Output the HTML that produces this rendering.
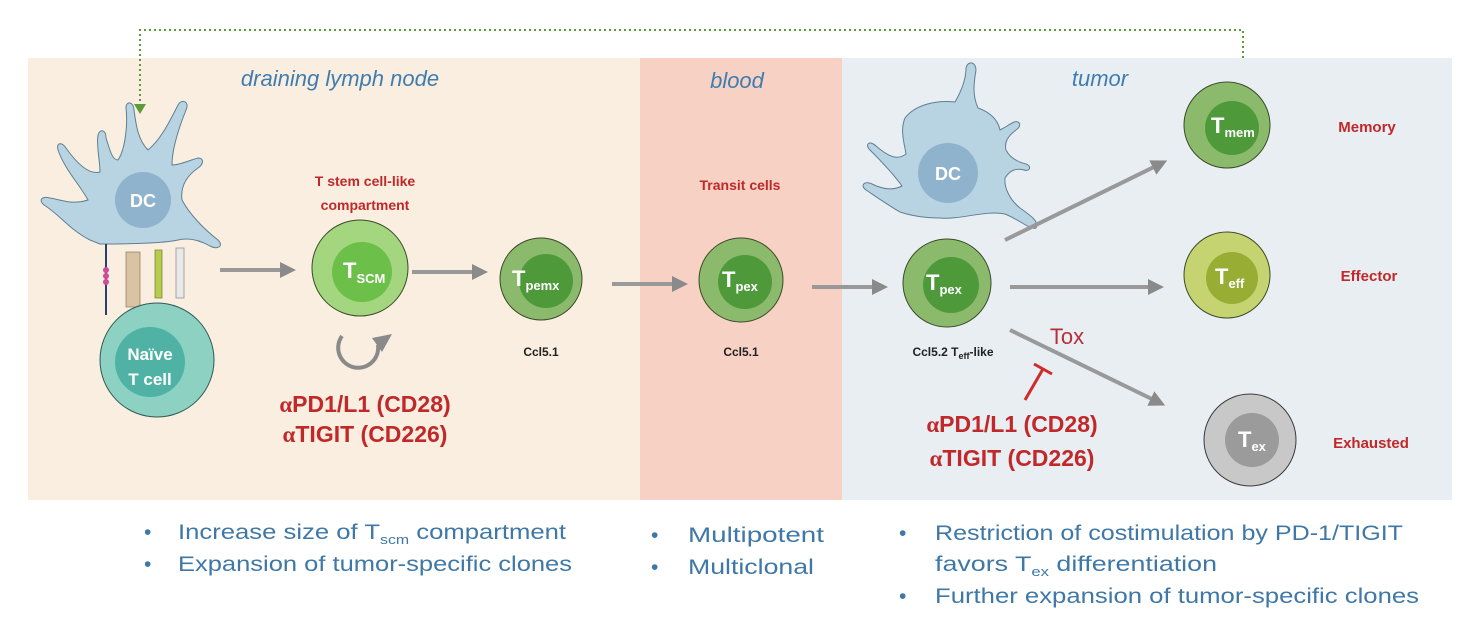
<!DOCTYPE html>
<html><head><meta charset="utf-8"><style>
html,body{margin:0;padding:0;background:#fff;width:1480px;height:636px;overflow:hidden}
svg{display:block;font-family:"Liberation Sans",sans-serif}
.red{fill:#c0282a;font-weight:bold}
.blue{fill:#3f7db1;font-style:italic;font-size:22px}
.bul{fill:#3f78a6;font-size:21px}
.cl{fill:#fff;font-weight:bold}
.ccl{fill:#222;font-weight:bold;font-size:12px}
.ab{fill:#c0282a;font-size:23px;font-weight:bold}
.arr{stroke:#999;stroke-width:4;fill:none}
</style></head><body>
<svg width="1480" height="636" viewBox="0 0 1480 636">
<defs>
<marker id="ah" markerWidth="4" markerHeight="4" refX="2" refY="2" orient="auto" markerUnits="strokeWidth"><path d="M0,0 L4,2 L0,4z" fill="#8a8a8a"/></marker>
</defs>
<rect x="28" y="58" width="612" height="442" fill="#f9eedf"/>
<rect x="640" y="58" width="202" height="442" fill="#f6d1c4"/>
<rect x="842" y="58" width="610" height="442" fill="#e9eef3"/>
<path d="M1243,58 V30 H140 V106" fill="none" stroke="#5d9a3a" stroke-width="2" stroke-dasharray="2,3"/>
<path d="M134,104 L146,104 L140,114z" fill="#5d9a3a"/>
<text x="340" y="86" text-anchor="middle" class="blue">draining lymph node</text>
<text x="737" y="88" text-anchor="middle" class="blue">blood</text>
<text x="1100" y="86" text-anchor="middle" class="blue">tumor</text>

<g>
<path d="M90,240 C70,230 60,215 44,205 C38,200 42,196 50,198 C62,200 72,205 88,200 C80,185 65,170 58,150 C56,142 62,142 66,148 C78,165 90,175 100,172 C100,160 96,145 98,135 C100,128 106,130 106,138 C110,150 112,160 118,160 C125,150 128,125 126,108 C126,100 134,102 134,110 C136,125 138,140 148,150 C160,140 168,125 178,105 C182,98 190,102 186,110 C178,130 172,150 172,165 C180,165 190,160 198,158 C204,158 204,164 198,168 C188,175 180,185 182,200 C190,215 205,230 218,240 C224,246 218,250 210,246 C196,238 186,238 178,240 C160,244 120,244 100,244z" fill="#b8d4e3" stroke="#5f7f92" stroke-width="1"/>
<circle cx="143" cy="200" r="28" fill="#8fb3cc"/>
<text x="143" y="207" text-anchor="middle" class="cl" font-size="18">DC</text>
</g>
<g>
<line x1="106" y1="244" x2="106" y2="315" stroke="#2a3f6a" stroke-width="2"/>
<circle cx="106" cy="270" r="3" fill="#d04a9a"/><circle cx="106" cy="276" r="3" fill="#d04a9a"/><circle cx="106" cy="282" r="3" fill="#d04a9a"/>
<rect x="126" y="252" width="14" height="55" fill="#d9c3a2" stroke="#8a7a60" stroke-width="0.7"/>
<rect x="155" y="250" width="7" height="48" fill="#b6cc4e" stroke="#6f7f30" stroke-width="0.7"/>
<rect x="176" y="248" width="8" height="50" fill="#e8e8e8" stroke="#888" stroke-width="0.7"/>
</g>
<g>
<circle cx="157" cy="360" r="57" fill="#8dd1c3" stroke="#2f5a52" stroke-width="1"/>
<circle cx="150" cy="362" r="35" fill="#4fb2a5"/>
<text x="150" y="360" text-anchor="middle" class="cl" font-size="17">Naïve</text>
<text x="150" y="385" text-anchor="middle" class="cl" font-size="17">T cell</text>
</g>
<line x1="220" y1="270" x2="288" y2="270" class="arr" marker-end="url(#ah)"/>

<text x="365" y="186" text-anchor="middle" class="red" font-size="14">T stem cell-like</text>
<text x="365" y="210" text-anchor="middle" class="red" font-size="14">compartment</text>
<g>
<circle cx="360" cy="268" r="48" fill="#a4d57f" stroke="#3a4a2a" stroke-width="1"/>
<circle cx="362" cy="272" r="30" fill="#6cbf48"/>
<text x="343" y="278" class="cl" font-size="22">T<tspan font-size="13" dy="5">SCM</tspan></text>
</g>
<path d="M342,336 A20,20 0 1 0 378,345" fill="none" stroke="#8a8a8a" stroke-width="4"/>
<path d="M372,338 L392,334 L382,352z" fill="#8a8a8a"/>
<text x="365" y="412" text-anchor="middle" class="ab"><tspan font-family="Liberation Serif">α</tspan>PD1/L1 (CD28)</text>
<text x="365" y="442" text-anchor="middle" class="ab"><tspan font-family="Liberation Serif">α</tspan>TIGIT (CD226)</text>
<line x1="412" y1="272" x2="480" y2="272" class="arr" marker-end="url(#ah)"/>

<g>
<circle cx="541" cy="279" r="41" fill="#8cba6c" stroke="#3a4a2a" stroke-width="1"/>
<circle cx="546" cy="281" r="27" fill="#4e9a3a"/>
<text x="512" y="286" class="cl" font-size="22">T<tspan font-size="13" dy="4">pemx</tspan></text>
<text x="541" y="356" text-anchor="middle" class="ccl">Ccl5.1</text>
</g>
<line x1="612" y1="284" x2="680" y2="284" class="arr" marker-end="url(#ah)"/>

<text x="740" y="190" text-anchor="middle" class="red" font-size="14">Transit cells</text>
<g>
<circle cx="741" cy="280" r="42" fill="#8cba6c" stroke="#3a4a2a" stroke-width="1"/>
<circle cx="745" cy="282" r="27" fill="#4e9a3a"/>
<text x="722" y="287" class="cl" font-size="22">T<tspan font-size="13" dy="4">pex</tspan></text>
<text x="741" y="356" text-anchor="middle" class="ccl">Ccl5.1</text>
</g>
<line x1="812" y1="287" x2="880" y2="287" class="arr" marker-end="url(#ah)"/>

<g>
<path d="M900,212 C888,205 878,198 866,190 C860,186 864,180 872,184 C884,190 894,190 902,186 C895,176 886,166 870,150 C864,144 870,140 876,146 C890,158 898,160 906,154 C904,142 900,130 905,118 C915,105 935,100 955,102 C962,90 966,78 966,68 C968,60 976,62 976,70 C974,82 972,95 978,108 C990,112 998,120 1000,130 C1004,128 1010,124 1014,122 C1020,120 1022,126 1016,130 C1008,136 1004,142 1006,150 C1010,158 1018,162 1026,164 C1032,166 1030,172 1024,170 C1016,168 1010,170 1005,178 C1004,188 1010,200 1020,208 C1030,215 1040,222 1036,228 C1030,230 1020,220 1005,214 C985,210 960,220 940,218 C925,218 912,216 900,212z" fill="#b8d4e3" stroke="#5f7f92" stroke-width="1"/>
<circle cx="948" cy="173" r="30" fill="#8fb3cc"/>
<text x="948" y="180" text-anchor="middle" class="cl" font-size="18">DC</text>
</g>
<g>
<circle cx="947" cy="283" r="44" fill="#8cba6c" stroke="#3a4a2a" stroke-width="1"/>
<circle cx="951" cy="285" r="28" fill="#4e9a3a"/>
<text x="926" y="290" class="cl" font-size="22">T<tspan font-size="13" dy="4">pex</tspan></text>
<text x="953" y="356" text-anchor="middle" class="ccl">Ccl5.2 T<tspan font-size="9" dy="3">eff</tspan><tspan dy="-3">-like</tspan></text>
</g>
<line x1="1005" y1="240" x2="1160" y2="164" class="arr" marker-end="url(#ah)"/>
<line x1="1010" y1="287" x2="1156" y2="287" class="arr" marker-end="url(#ah)"/>
<line x1="1010" y1="330" x2="1158" y2="402" class="arr" marker-end="url(#ah)"/>
<text x="1067" y="344" text-anchor="middle" fill="#b5303a" font-size="22">Tox</text>
<g stroke="#d02a2a" stroke-width="3">
<line x1="1025" y1="400" x2="1043" y2="369"/><line x1="1034" y1="364" x2="1052" y2="374"/>
</g>
<text x="1012" y="432" text-anchor="middle" class="ab"><tspan font-family="Liberation Serif">α</tspan>PD1/L1 (CD28)</text>
<text x="1012" y="466" text-anchor="middle" class="ab"><tspan font-family="Liberation Serif">α</tspan>TIGIT (CD226)</text>

<g>
<circle cx="1227" cy="125" r="43" fill="#8cba6c" stroke="#3a4a2a" stroke-width="1"/>
<circle cx="1232" cy="128" r="27" fill="#4e9a3a"/>
<text x="1211" y="133" class="cl" font-size="22">T<tspan font-size="13" dy="4">mem</tspan></text>
</g>
<g>
<circle cx="1227" cy="275" r="43" fill="#c5d470" stroke="#3a4a2a" stroke-width="1"/>
<circle cx="1232" cy="278" r="26" fill="#98ad34"/>
<text x="1215" y="284" class="cl" font-size="22">T<tspan font-size="13" dy="4">eff</tspan></text>
</g>
<g>
<circle cx="1250" cy="440" r="46" fill="#c8c8c8" stroke="#3a3a3a" stroke-width="1"/>
<circle cx="1252" cy="440" r="27" fill="#9b9b9b"/>
<text x="1238" y="447" class="cl" font-size="22">T<tspan font-size="13" dy="4">ex</tspan></text>
</g>
<text x="1367" y="132" text-anchor="middle" class="red" font-size="15">Memory</text>
<text x="1369" y="281" text-anchor="middle" class="red" font-size="15">Effector</text>
<text x="1371" y="448" text-anchor="middle" class="red" font-size="15">Exhausted</text>

<g class="bul">
<text x="144" y="539">•</text><text x="178" y="539" textLength="388" lengthAdjust="spacingAndGlyphs">Increase size of T<tspan font-size="13" dy="5">scm</tspan><tspan dy="-5"> compartment</tspan></text>
<text x="144" y="571">•</text><text x="178" y="571" textLength="394" lengthAdjust="spacingAndGlyphs">Expansion of tumor-specific clones</text>
</g>
<g class="bul">
<text x="651" y="542">•</text><text x="688" y="542" textLength="136" lengthAdjust="spacingAndGlyphs">Multipotent</text>
<text x="651" y="574">•</text><text x="688" y="574" textLength="126" lengthAdjust="spacingAndGlyphs">Multiclonal</text>
</g>
<g class="bul">
<text x="899" y="540">•</text><text x="935" y="540" textLength="468" lengthAdjust="spacingAndGlyphs">Restriction of costimulation by PD-1/TIGIT</text>
<text x="935" y="571" textLength="282" lengthAdjust="spacingAndGlyphs">favors  T<tspan font-size="13" dy="5">ex</tspan><tspan dy="-5"> differentiation</tspan></text>
<text x="899" y="603">•</text><text x="935" y="603" textLength="484" lengthAdjust="spacingAndGlyphs">Further expansion of tumor-specific clones</text>
</g>
</svg>
</body></html>
